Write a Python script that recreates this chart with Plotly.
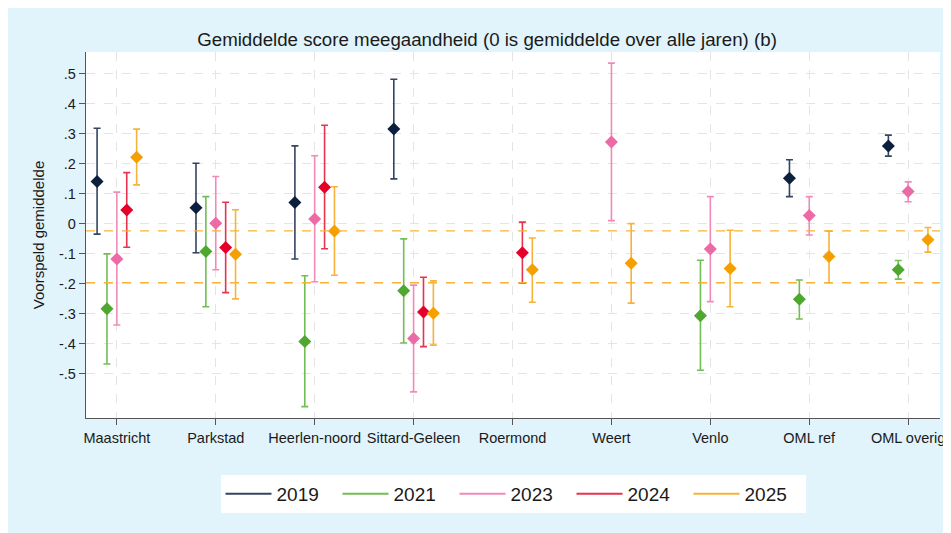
import plotly.graph_objects as go

categories = ["Maastricht", "Parkstad", "Heerlen-noord", "Sittard-Geleen", "Roermond",
              "Weert", "Venlo", "OML ref", "OML overig"]
years = ["2019", "2021", "2023", "2024", "2025"]
offsets = [-0.2, -0.1, 0.0, 0.1, 0.2]

est_2019 = [0.141, 0.054, 0.071, 0.316, None, None, None, 0.152, 0.260]
lo_2019 = [-0.034, -0.096, -0.117, 0.150, None, None, None, 0.091, 0.226]
hi_2019 = [0.319, 0.202, 0.260, 0.482, None, None, None, 0.214, 0.296]

est_2021 = [-0.283, -0.092, -0.392, -0.223, None, None, -0.306, -0.251, -0.153]
lo_2021 = [-0.467, -0.276, -0.609, -0.397, None, None, -0.488, -0.317, -0.184]
hi_2021 = [-0.100, 0.091, -0.173, -0.050, None, None, -0.121, -0.187, -0.122]

est_2023 = [-0.117, 0.002, 0.016, -0.382, None, 0.273, -0.084, 0.028, 0.108]
lo_2023 = [-0.337, -0.153, -0.193, -0.560, None, 0.011, -0.259, -0.037, 0.074]
hi_2023 = [0.106, 0.158, 0.227, -0.204, None, 0.536, 0.091, 0.091, 0.140]

est_2024 = [0.046, -0.079, 0.122, -0.294, -0.096, None, None, None, None]
lo_2024 = [-0.078, -0.229, -0.083, -0.409, -0.197, None, None, None, None]
hi_2024 = [0.171, 0.072, 0.329, -0.178, 0.006, None, None, None, None]

est_2025 = [0.222, -0.101, -0.024, -0.298, -0.153, -0.131, -0.149, -0.109, -0.053]
lo_2025 = [0.130, -0.250, -0.171, -0.404, -0.261, -0.264, -0.276, -0.196, -0.094]
hi_2025 = [0.316, 0.047, 0.124, -0.190, -0.047, 0.001, -0.021, -0.024, -0.012]

ref_lines = [-0.023, -0.196]
y_ticks = [0.5, 0.4, 0.3, 0.2, 0.1, 0.0, -0.1, -0.2, -0.3, -0.4, -0.5]
y_ticklabels = [".5", ".4", ".3", ".2", ".1", "0", "-.1", "-.2", "-.3", "-.4", "-.5"]

series = {
    "2019": (est_2019, lo_2019, hi_2019),
    "2021": (est_2021, lo_2021, hi_2021),
    "2023": (est_2023, lo_2023, hi_2023),
    "2024": (est_2024, lo_2024, hi_2024),
    "2025": (est_2025, lo_2025, hi_2025),
}
marker_colors = ["#0b1f3f", "#4ea72e", "#ec6ba6", "#e4002b", "#f5a000"]
bar_colors = ["#34455f", "#72bd55", "#f18ab8", "#e8334f", "#f7b23a"]

FONT = "Liberation Sans, Arial, sans-serif"
fig = go.Figure()

for i, yr in enumerate(years):
    est, lo, hi = series[yr]
    xs, ys, up, dn = [], [], [], []
    for c in range(len(categories)):
        if est[c] is None:
            continue
        xs.append(c + offsets[i])
        ys.append(est[c])
        up.append(hi[c] - est[c])
        dn.append(est[c] - lo[c])
    fig.add_trace(go.Scatter(
        x=xs, y=ys, mode="markers", showlegend=False, name=yr,
        marker=dict(symbol="diamond", size=10, color=marker_colors[i]),
        error_y=dict(type="data", symmetric=False, array=up, arrayminus=dn,
                     color=bar_colors[i], thickness=1.6, width=3.5),
    ))

for i, yr in enumerate(years):
    fig.add_trace(go.Scatter(
        x=[None], y=[None], mode="lines", name=yr, showlegend=True,
        line=dict(color=bar_colors[i], width=2),
    ))

for v in ref_lines:
    fig.add_hline(y=v, line=dict(color="#f7b23a", width=1.3, dash="dash"), layer="above")

fig.update_layout(
    width=943, height=528,
    margin=dict(l=78, r=6, t=44, b=118),
    paper_bgcolor="#e1f3fb",
    plot_bgcolor="white",
    font=dict(family=FONT, color="#1a1a1a", size=14),
    title=dict(text="Gemiddelde score meegaandheid (0 is gemiddelde over alle jaren) (b)",
               x=0.508, xref="container", xanchor="center", y=0.94, yanchor="middle",
               font=dict(size=18.7, color="#1a1a1a", family=FONT)),
    xaxis=dict(range=[-0.312, 8.322], tickmode="array", tickvals=list(range(len(categories))),
               ticktext=categories, showgrid=True, gridcolor="#e4e4e4", griddash="dash",
               gridwidth=1, zeroline=False, showline=True, linecolor="#555555", linewidth=1.3,
               ticks="outside", ticklen=6, tickcolor="#555555", tickfont=dict(size=14.5)),
    yaxis=dict(range=[-0.647, 0.573], tickmode="array", tickvals=y_ticks, ticktext=y_ticklabels,
               showgrid=True, gridcolor="#e4e4e4", griddash="dash", gridwidth=1, zeroline=False,
               showline=True, linecolor="#555555", linewidth=1.3, ticks="outside", ticklen=6,
               tickcolor="#555555", tickfont=dict(size=14.5),
               title=dict(text="Voorspeld gemiddelde", font=dict(size=15), standoff=10)),
    legend=dict(orientation="h", x=0.5, xanchor="center", y=-0.2077, yanchor="middle",
                bgcolor="white", font=dict(size=19), itemwidth=46,
                entrywidth=56, entrywidthmode="pixels", itemclick=False),
)

fig.write_html("out.html")
